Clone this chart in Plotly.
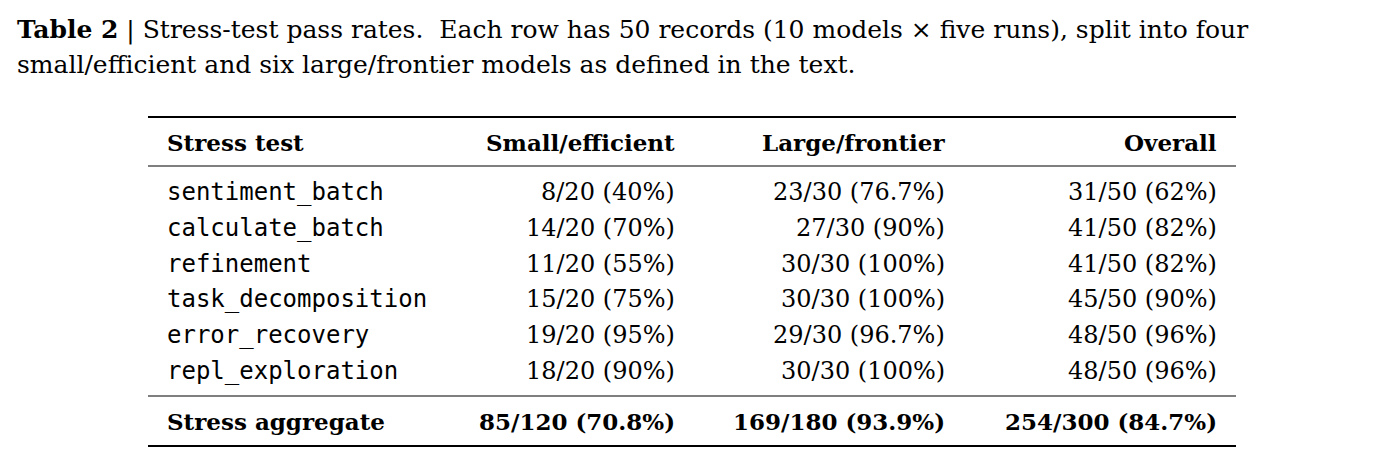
import plotly.graph_objects as go

tests = ["sentiment_batch", "calculate_batch", "refinement",
         "task_decomposition", "error_recovery", "repl_exploration"]
small = ["8/20 (40%)", "14/20 (70%)", "11/20 (55%)", "15/20 (75%)", "19/20 (95%)", "18/20 (90%)"]
large = ["23/30 (76.7%)", "27/30 (90%)", "30/30 (100%)", "30/30 (100%)", "29/30 (96.7%)", "30/30 (100%)"]
overall = ["31/50 (62%)", "41/50 (82%)", "41/50 (82%)", "45/50 (90%)", "48/50 (96%)", "48/50 (96%)"]
headers = ["Stress test", "Small/efficient", "Large/frontier", "Overall"]
aggregate = ["Stress aggregate", "85/120 (70.8%)", "169/180 (93.9%)", "254/300 (84.7%)"]

SERIF = "DejaVu Serif, serif"
MONO = "DejaVu Sans Mono, monospace"
FS = 24

# page renders with an 8px offset, so positions are shifted back by 8
OFF = 8
col_x = [165 - OFF, 677 - OFF, 947 - OFF, 1219 - OFF]
col_anchor = ["left", "right", "right", "right"]
header_y = 142 - OFF
row_y = [y - OFF for y in [192, 228, 264, 299, 335, 371]]
agg_y = 421 - OFF

fig = go.Figure()
ann = []

def cell(x, y, text, anchor, family, size):
    ann.append(dict(x=x, y=y, xref="x", yref="y", text=text, showarrow=False,
                    xanchor=anchor, yanchor="middle",
                    font=dict(family=family, size=size, color="black")))

for i, h in enumerate(headers):
    cell(col_x[i], header_y, "<b>" + h + "</b>", col_anchor[i], SERIF, 23)
for r, y in enumerate(row_y):
    cols = [tests[r], small[r], large[r], overall[r]]
    for i, t in enumerate(cols):
        cell(col_x[i], y, t, col_anchor[i], MONO if i == 0 else SERIF, FS)
for i, t in enumerate(aggregate):
    cell(col_x[i], agg_y, "<b>" + t + "</b>", col_anchor[i], SERIF, 23)

# caption
ann.append(dict(x=15 - OFF, y=30 - OFF, xref="x", yref="y", xanchor="left", yanchor="middle", showarrow=False,
                text="<b>Table 2</b> | Stress-test pass rates.  Each row has 50 records (10 models × five runs), split into four",
                font=dict(family=SERIF, size=25, color="black")))
ann.append(dict(x=15 - OFF, y=64 - OFF, xref="x", yref="y", xanchor="left", yanchor="middle", showarrow=False,
                text="small/efficient and six large/frontier models as defined in the text.",
                font=dict(family=SERIF, size=25, color="black")))

shapes = []
for y, w in [(117, 2.2), (166, 1.2), (396, 1.2), (446, 2.2)]:
    shapes.append(dict(type="line", xref="x", yref="y", x0=148 - OFF, x1=1236 - OFF,
                       y0=y - OFF, y1=y - OFF, line=dict(color="black", width=w)))

fig.update_layout(
    width=1394, height=466, margin=dict(l=0, r=0, t=0, b=0),
    paper_bgcolor="white", plot_bgcolor="white",
    xaxis=dict(range=[0, 1394], visible=False, fixedrange=True),
    yaxis=dict(range=[466, 0], visible=False, fixedrange=True),
    annotations=ann, shapes=shapes, showlegend=False,
)
fig.write_html("out.html")
